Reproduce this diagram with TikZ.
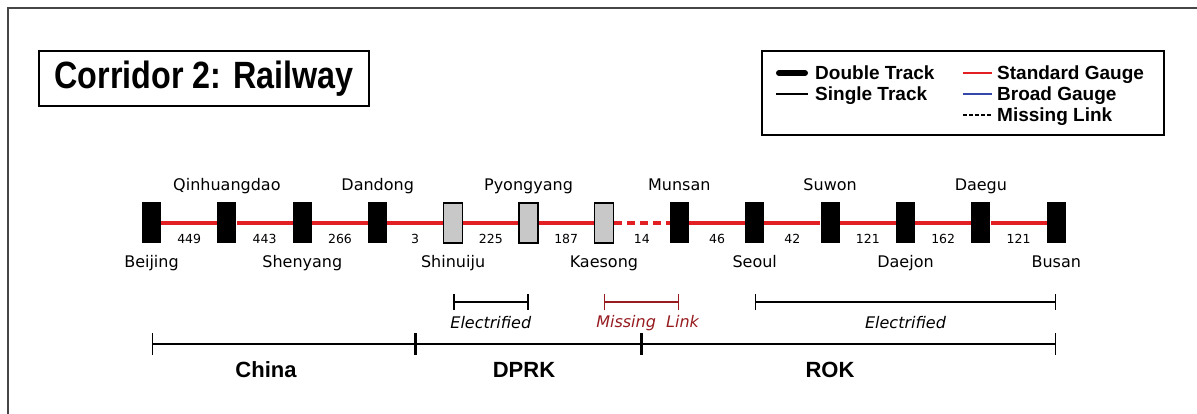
\documentclass[tikz,border=0pt]{standalone}
\usepackage{fontspec}
\setmainfont{Liberation Sans}
\newfontfamily\pixfont{DejaVu Sans}[ItalicFont={DejaVu Sans Oblique}]
\usepackage{graphicx}
\usepackage{xcolor}
\definecolor{gaugered}{RGB}{226,32,36}
\definecolor{broadblue}{RGB}{52,72,170}
\definecolor{linkred}{RGB}{150,28,32}
\definecolor{boxgray}{RGB}{200,200,200}
\definecolor{framegray}{RGB}{70,70,70}
\usepackage{tikz}
\usetikzlibrary{arrows.meta}
\usetikzlibrary{calc}
\usetikzlibrary{positioning}

\begin{document}
\begin{tikzpicture}[x=1pt, y=-1pt,
    station/.style={fill=black, minimum width=19pt, minimum height=41pt, inner sep=0pt},
    northbox/.style={fill=boxgray, draw=black, line width=1.3pt, minimum width=19pt, minimum height=40pt, inner sep=0pt},
    track/.style={gaugered, line width=4pt},
    dist/.style={text=black, font=\pixfont\fontsize{12.5}{14}\selectfont, yshift=-16pt},
    city/.style={font=\pixfont\fontsize{16}{19}\selectfont, anchor=base, inner sep=0pt},
    span/.style={line width=1.5pt, {Bar[width=16pt, line width=1.5pt]}-{Bar[width=16pt, line width=1.5pt]}},
    cspan/.style={line width=1.5pt, {Bar[width=22pt, line width=1.5pt]}-{Bar[width=22pt, line width=1.5pt]}},
    tag/.style={font=\pixfont\itshape\fontsize{16}{19}\selectfont, yshift=-21pt},
    country/.style={font=\bfseries\fontsize{22}{26}\selectfont},
    legtext/.style={font=\bfseries\fontsize{19}{22}\selectfont, anchor=base west, inner sep=0pt}
  ]

    \useasboundingbox (0,0) rectangle (1197,414);

    % frame and title
    \draw [framegray, line width=2pt] (8,414) -- (8,8) -- (1197,8);
    \node [draw, line width=1.5pt, minimum width=330pt, minimum height=55pt,
      font=\bfseries\fontsize{38}{40}\selectfont] (title) at (204,78.5)
    {\scalebox{0.85}[1]{Corridor 2: Railway}};

    % legend
    \draw [line width=1.5pt] (762,51) rectangle (1164,135);
    \draw [line width=6pt, line cap=round] (779,73) -- (805,73);
    \draw [line width=2pt] (776,94) -- (808,94);
    \draw [gaugered, line width=2.5pt] (963,73) -- (992,73);
    \draw [broadblue, line width=2.5pt] (963,94) -- (992,94);
    \draw [line width=2pt, dash pattern=on 4pt off 2pt] (963,115) -- (992,115);
    \node [legtext] (double) at (815,79.5) {Double Track};
    \node [legtext] (single) at (815,100.5) {Single Track};
    \node [legtext] (standard) at (997,79.5) {Standard Gauge};
    \node [legtext] (broad) at (997,100.5) {Broad Gauge};
    \node [legtext] (missing) at (997,121.5) {Missing Link};

    % stations
    \foreach \i in {0,1,2,3,7,8,9,10,11,12}
      \node [station] (s\i) at ({151.5+75.4*\i},223) {};
    \foreach \i in {4,5,6}
      \node [northbox] (s\i) at ({151.5+75.4*\i},223) {};

    % tracks and distances
    \foreach \a/\b/\d in {0/1/449, 1/2/443, 2/3/266, 3/4/3, 4/5/225, 5/6/187,
        7/8/46, 8/9/42, 9/10/121, 10/11/162, 11/12/121}
      \draw [track] (s\a) -- node [dist] {\d} (s\b);
    \draw [track, dash pattern=on 8pt off 5pt] (s6) -- node [dist] {14} (s7);

    % station names
    \coordinate (top) at (0,191);
    \coordinate (bot) at (0,267);
    \foreach \i/\t in {1/Qinhuangdao, 3/Dandong, 5/Pyongyang, 7/Munsan, 9/Suwon, 11/Daegu}
      \node [city] (n\i) at (s\i |- top) {\t};
    \foreach \i/\t in {0/Beijing, 2/Shenyang, 4/Shinuiju, 6/Kaesong, 8/Seoul, 10/Daejon, 12/Busan}
      \node [city] (n\i) at (s\i |- bot) {\t};

    % sections
    \coordinate (el) at (0,302);
    \coordinate (cl) at (0,344);
    \draw [span] (s4 |- el) -- node [tag] (elec1) {Electrified} (s5 |- el);
    \draw [span, linkred] (s6 |- el) -- node [tag, xshift=6pt] (gap) {Missing~ Link} (s7 |- el);
    \draw [span] (s8 |- el) -- node [tag] (elec2) {Electrified} (s12 |- el);

    \coordinate (b1) at ($(s3)!0.5!(s4)$);
    \coordinate (b2) at ($(s6)!0.5!(s7)$);
    \draw [cspan] (s0 |- cl) -- (b1 |- cl);
    \draw [cspan] (b1 |- cl) -- (b2 |- cl);
    \draw [cspan] (b2 |- cl) -- (s12 |- cl);
    \node [country] (china) at (266,370) {China};
    \node [country] (dprk) at (524,370) {DPRK};
    \node [country] (rok) at (830,370) {ROK};

  \end{tikzpicture}
\end{document}
